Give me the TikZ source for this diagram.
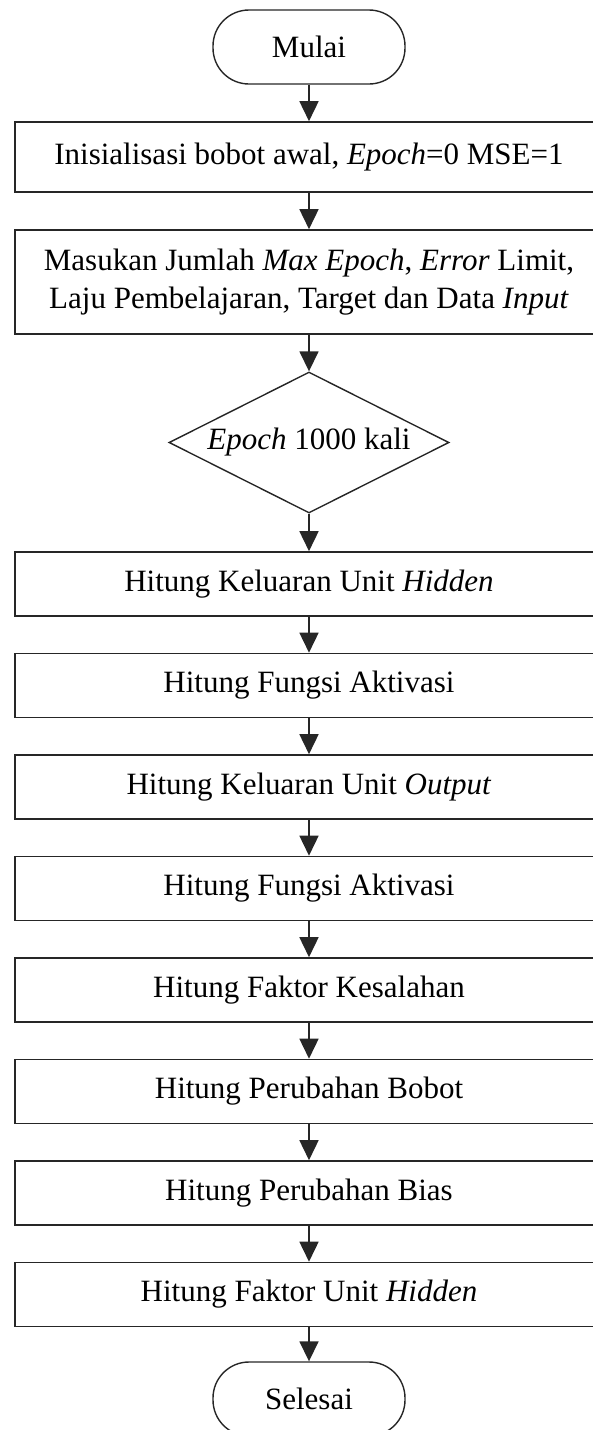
\documentclass[tikz,border=0pt]{standalone}
\usepackage{fontspec}
\setmainfont{Liberation Serif}
\usetikzlibrary{shapes.geometric,arrows.meta}
\begin{document}
\begin{tikzpicture}[x=1pt,y=-1pt,
  every node/.style={font=\fontsize{31}{38}\selectfont, inner sep=0pt, align=center},
  procbox/.style={draw=black!85, line width=1.6pt, minimum width=588pt, minimum height=64pt},
  termbox/.style={draw=black!85, line width=1.4pt, rounded corners=36pt, minimum width=192pt, minimum height=74pt},
  decbox/.style={draw=black!85, line width=1.4pt, diamond, aspect=2, minimum width=280pt, minimum height=141pt},
  flow/.style={draw=black!85, line width=1.6pt, -{Triangle[width=19pt,length=20pt]}}
]
\useasboundingbox (0,0) rectangle (593,1430);
\node[termbox] (mulai) at (309,47) {Mulai};
\node[procbox, minimum height=70pt] (init) at (309,157) {Inisialisasi bobot awal, \textit{Epoch}=0 MSE=1};
\node[procbox, minimum height=104pt] (input) at (309,282) {Masukan Jumlah \textit{Max Epoch}, \textit{Error} Limit,\\Laju Pembelajaran, Target dan Data \textit{Input}};
\node[decbox] (epoch) at (309,442.5) {\textit{Epoch} 1000 kali};
\node[procbox] (h1) at (309,584) {Hitung Keluaran Unit \textit{Hidden}};
\node[procbox] (f1) at (309,685.5) {Hitung Fungsi Aktivasi};
\node[procbox] (o1) at (309,787) {Hitung Keluaran Unit \textit{Output}};
\node[procbox] (f2) at (309,888.5) {Hitung Fungsi Aktivasi};
\node[procbox] (fk) at (309,990) {Hitung Faktor Kesalahan};
\node[procbox] (pb) at (309,1091.5) {Hitung Perubahan Bobot};
\node[procbox] (pbi) at (309,1193) {Hitung Perubahan Bias};
\node[procbox] (fh) at (309,1294.5) {Hitung Faktor Unit \textit{Hidden}};
\node[termbox] (selesai) at (309,1399) {Selesai};
\draw[flow] (mulai) -- (init);
\draw[flow] (init) -- (input);
\draw[flow] (input) -- (epoch);
\draw[flow] (epoch) -- (h1);
\draw[flow] (h1) -- (f1);
\draw[flow] (f1) -- (o1);
\draw[flow] (o1) -- (f2);
\draw[flow] (f2) -- (fk);
\draw[flow] (fk) -- (pb);
\draw[flow] (pb) -- (pbi);
\draw[flow] (pbi) -- (fh);
\draw[flow] (fh) -- (selesai);
\end{tikzpicture}
\end{document}
